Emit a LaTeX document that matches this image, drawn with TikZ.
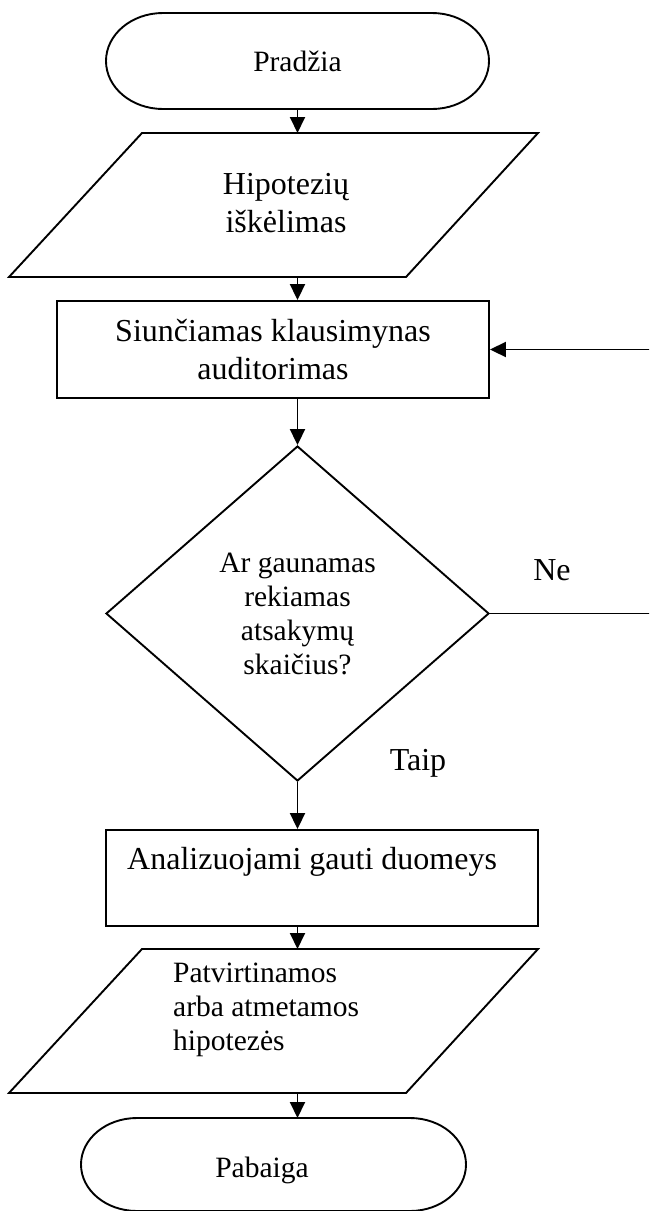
\documentclass[tikz,border=0pt]{standalone}
\usepackage{fontspec}
\setmainfont{Liberation Serif}
\usetikzlibrary{arrows.meta,shapes.geometric}

\tikzset{
  every node/.style={inner sep=0pt},
  outline/.style={draw=black, line width=1.9pt, line join=miter},
  arr/.style={draw=black, line width=1.9pt, -{Triangle[length=16pt,width=15pt]}},
  big/.style={font=\fontsize{32}{38}\selectfont},
  small/.style={font=\fontsize{29.5}{34}\selectfont},
  term/.style={small, outer sep=0pt},
  process/.style={outline, minimum height=97pt, big, align=center},
  decision/.style={diamond, outline, aspect=1, minimum width=383pt,
    minimum height=335pt, small, align=center},
  frame/.style={outer sep=0pt, minimum width=529pt, minimum height=144pt},
}

% stadium outline with elliptic ends around a named node
\newcommand\stadiumline[3]{%
  \draw[outline] ([xshift=#2]#1.north west) -- ([xshift=-#2]#1.north east)
    arc[start angle=90, end angle=-90, x radius=#2, y radius=#3]
    -- ([xshift=#2]#1.south west)
    arc[start angle=270, end angle=90, x radius=#2, y radius=#3] -- cycle;}

\begin{document}
\begin{tikzpicture}[x=1pt, y=1pt]
  \useasboundingbox (0,0) rectangle (649,-1211);
  \clip (0,0) rectangle (649,-1211);

  % start terminal
  \node[term, minimum width=383pt, minimum height=96pt] (start) at (297.5,-61) {Pradžia};
  \stadiumline{start}{57pt}{48pt}

  \coordinate (axis) at (297.5,0);

  % hypotheses (input/output)
  \node[frame] (hyp) at (273.5,-205) {};
  \draw[outline] ([xshift=133pt]hyp.north west) -- (hyp.north east)
    -- ([xshift=-132pt]hyp.south east) -- (hyp.south west) -- cycle;
  \node[big, align=center] (hyptext) at (286,-203) {Hipotezių\\iškėlimas};

  % questionnaire is sent
  \node[process, minimum width=432pt] (send) at (273,-349.5)
    {Siunčiamas klausimynas\\auditorimas};

  % decision
  \node[decision] (dia) at (297.5,-613.5)
    {Ar gaunamas\\rekiamas\\atsakymų\\skaičius?};

  % analysis
  \node[outline, minimum width=432pt, minimum height=96pt] (ana) at (322,-878) {};
  \node[big, anchor=base west] (anatext) at (127,-869) {Analizuojami gauti duomeys};

  % conclusion (input/output)
  \node[frame] (conc) at (273.5,-1021) {};
  \draw[outline] ([xshift=133pt]conc.north west) -- (conc.north east)
    -- ([xshift=-132pt]conc.south east) -- (conc.south west) -- cycle;
  \node[small, align=left, anchor=north west] (conctext) at (173,-963)
    {Patvirtinamos\\arba atmetamos\\hipotezės};

  % end terminal
  \node[term, minimum width=385pt, minimum height=93pt] (end) at (273.5,-1164.5) {};
  \stadiumline{end}{56pt}{46.5pt}
  \node[small] (endtext) at (262,-1170.5) {Pabaiga};

  % branch labels
  \node[big] (ne) at (552,-570) {Ne};
  \node[big] (taip) at (418,-763) {Taip};

  % connectors
  \draw[arr] (start.south) -- (axis |- hyp.north);
  \draw[arr] (axis |- hyp.south) -- (axis |- send.north);
  \draw[arr] (axis |- send.south) -- (dia.north);
  \draw[arr] (dia.south) -- (axis |- ana.north);
  \draw[arr] (axis |- ana.south) -- (axis |- conc.north);
  \draw[arr] (axis |- conc.south) -- (axis |- end.north);
  \draw[arr] (dia.east) -- ++(180pt,0) |- (send.east);
\end{tikzpicture}
\end{document}
